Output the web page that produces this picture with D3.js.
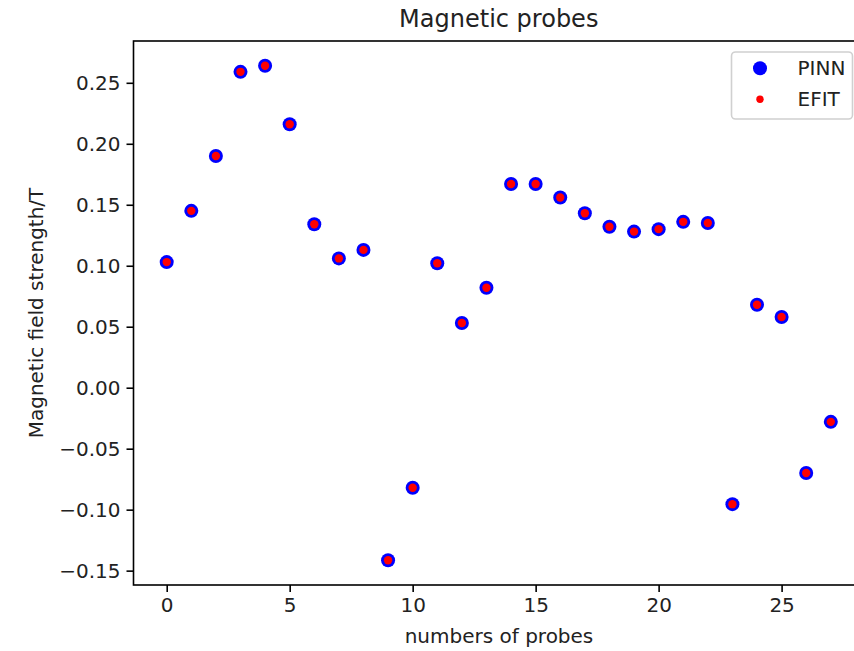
<!DOCTYPE html>
<html>
<head>
<meta charset="utf-8">
<script src="https://cdn.jsdelivr.net/npm/d3@7"></script>
<style>
  body { margin: 0; background: #fff; }
  svg { display: block; font-family: "DejaVu Sans", sans-serif; }
</style>
</head>
<body>
<div id="chart"></div>
<script>
// probe index and field values (PINN prediction vs EFIT reference)
const probeIds = d3.range(0, 28);
const pinnValues = [0.103, 0.145, 0.190, 0.259, 0.264, 0.216, 0.134, 0.106, 0.113, -0.1415,
  -0.082, 0.102, 0.053, 0.082, 0.167, 0.167, 0.156, 0.143, 0.132, 0.128,
  0.130, 0.136, 0.135, -0.0955, 0.068, 0.058, -0.070, -0.028];
const efitValues = [0.103, 0.145, 0.190, 0.259, 0.264, 0.216, 0.134, 0.106, 0.113, -0.1415,
  -0.082, 0.102, 0.053, 0.082, 0.167, 0.167, 0.156, 0.143, 0.132, 0.128,
  0.130, 0.136, 0.135, -0.0955, 0.068, 0.058, -0.070, -0.028];
const xTicks = [0, 5, 10, 15, 20, 25];
const yTicks = [-0.15, -0.10, -0.05, 0.00, 0.05, 0.10, 0.15, 0.20, 0.25];
const seriesNames = ["PINN", "EFIT"];

const W = 854, H = 651;
const plotL = 133.5, plotT = 41, plotB = 585, plotR = 864;

const svg = d3.select("#chart").append("svg")
  .attr("width", W).attr("height", H);

// matplotlib-style 5% margins
const xPad = (d3.max(probeIds) - d3.min(probeIds)) * 0.05;
const x = d3.scaleLinear()
  .domain([d3.min(probeIds) - xPad, d3.max(probeIds) + xPad])
  .range([plotL, plotR]);
const allVals = pinnValues.concat(efitValues);
const yPad = (d3.max(allVals) - d3.min(allVals)) * 0.05;
const y = d3.scaleLinear()
  .domain([d3.min(allVals) - yPad, d3.max(allVals) + yPad])
  .range([plotB, plotT]);

const fmt = d => d3.format(".2f")(d).replace("-", "\u2212");

// axes
const xAxis = svg.append("g")
  .attr("transform", `translate(0,${plotB})`)
  .call(d3.axisBottom(x).tickValues(xTicks).tickSize(7).tickPadding(6).tickFormat(d3.format("d")));
const yAxis = svg.append("g")
  .attr("transform", `translate(${plotL},0)`)
  .call(d3.axisLeft(y).tickValues(yTicks).tickSize(7).tickPadding(6).tickFormat(fmt));

[xAxis, yAxis].forEach(g => {
  g.select(".domain").remove();
  g.selectAll(".tick line").attr("stroke", "#000").attr("stroke-width", 1.6);
  g.selectAll(".tick text").attr("fill", "#222").style("font-size", "20px")
    .style("font-family", "DejaVu Sans, sans-serif");
});

// frame
svg.append("rect")
  .attr("x", plotL).attr("y", plotT)
  .attr("width", plotR - plotL).attr("height", plotB - plotT)
  .attr("fill", "none").attr("stroke", "#000").attr("stroke-width", 1.6);

// points
svg.append("g").selectAll("circle")
  .data(probeIds)
  .join("circle")
  .attr("cx", d => x(d)).attr("cy", (d, i) => y(pinnValues[i]))
  .attr("r", 7).attr("fill", "#0000ff");

svg.append("g").selectAll("circle")
  .data(probeIds)
  .join("circle")
  .attr("cx", d => x(d)).attr("cy", (d, i) => y(efitValues[i]))
  .attr("r", 4.2).attr("fill", "#ff0000");

// title + labels
svg.append("text")
  .attr("x", (plotL + plotR) / 2).attr("y", 27)
  .attr("text-anchor", "middle")
  .style("font-size", "24px").attr("fill", "#222")
  .text("Magnetic probes");

svg.append("text")
  .attr("x", 499).attr("y", 643)
  .attr("text-anchor", "middle")
  .style("font-size", "20px").attr("fill", "#222")
  .text("numbers of probes");

svg.append("text")
  .attr("transform", `translate(43,${(plotT + plotB) / 2}) rotate(-90)`)
  .attr("text-anchor", "middle")
  .style("font-size", "20px").attr("fill", "#222")
  .text("Magnetic field strength/T");

// legend
const lg = svg.append("g");
lg.append("rect")
  .attr("x", 731.5).attr("y", 52)
  .attr("width", 121).attr("height", 67)
  .attr("rx", 4)
  .attr("fill", "#fff").attr("fill-opacity", 0.8)
  .attr("stroke", "#d0d0d0").attr("stroke-width", 1.6);
const legendColors = ["#0000ff", "#ff0000"];
const legendR = [7, 3.7];
seriesNames.forEach((name, i) => {
  const cy = 68.3 + i * 31;
  lg.append("circle").attr("cx", 760).attr("cy", cy)
    .attr("r", legendR[i]).attr("fill", legendColors[i]);
  lg.append("text").attr("x", 797.5).attr("y", cy + 7)
    .style("font-size", "20px").attr("fill", "#222")
    .text(name);
});
</script>
</body>
</html>
